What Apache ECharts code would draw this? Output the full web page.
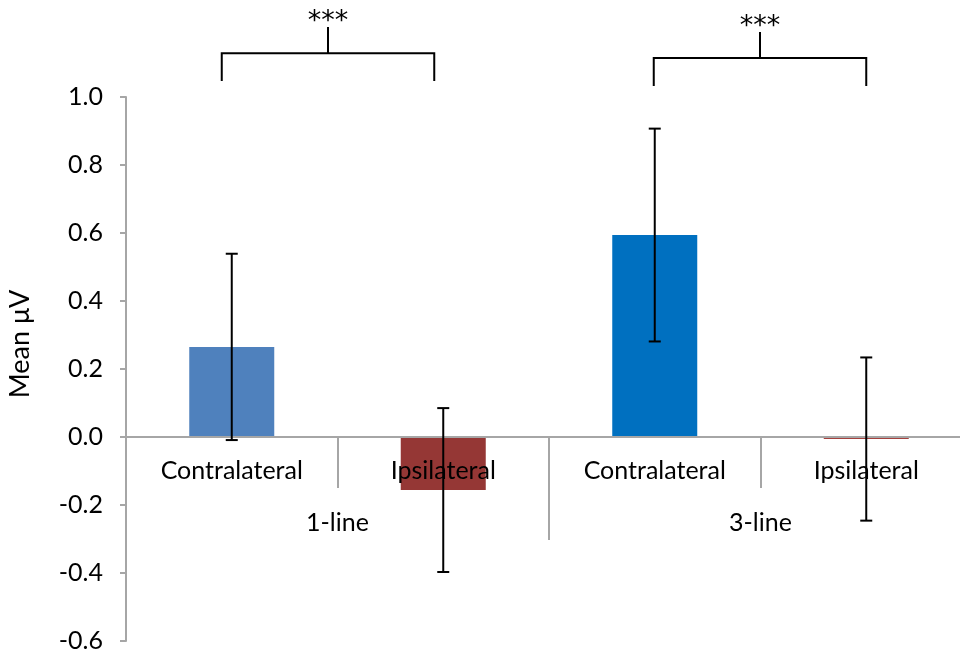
<!DOCTYPE html>
<html>
<head>
<meta charset="utf-8">
<script src="https://cdn.jsdelivr.net/npm/echarts@6/dist/echarts.min.js"></script>
<style>
html,body{margin:0;padding:0;background:#fff;}
#chart{width:960px;height:653px;}
</style>
</head>
<body>
<div id="chart"></div>
<script>
// ---- data ----
var categories = ['Contralateral', 'Ipsilateral', 'Contralateral', 'Ipsilateral'];
var groups = ['1-line', '3-line'];
var means = [0.265, -0.156, 0.594, -0.006];
var errors = [0.274, 0.241, 0.313, 0.240];
var barColors = ['#4F81BD', '#953735', '#0070C0', '#A5403D'];
var yTicks = { min: -0.6, max: 1.0, step: 0.2 };
// significance brackets
var bracketFrom = [0, 2];
var bracketTo = [1, 3];
var bracketLegY = [1.047, 1.032];
var bracketBarY = [1.129, 1.115];
var bracketStemY = [1.206, 1.191];
var bracketStarY = [1.22, 1.205];
var bracketText = ['***', '***'];

var FONT = 'Lato';
var GRID_TOP = 97, GRID_BOTTOM = 12, H = 653;
// pixel distance from grid bottom up to the zero line
var zeroOffset = -((H - GRID_BOTTOM - GRID_TOP) * (0 - yTicks.min) / (yTicks.max - yTicks.min));
// horizontal nudges (px) of bracket ends relative to bar centres
var bracketShift = [[-10, -9], [-1, 0]];

var chart = echarts.init(document.getElementById('chart'));

var barData = means.map(function (v, i) {
  return { value: v, itemStyle: { color: barColors[i] } };
});
var errData = means.map(function (v, i) { return [i, v - errors[i], v + errors[i]]; });
var brData = bracketFrom.map(function (f, i) {
  return [f, bracketTo[i], bracketLegY[i], bracketBarY[i], bracketStemY[i], bracketStarY[i]];
});

chart.setOption({
  animation: false,
  grid: { left: 126, right: -12, top: GRID_TOP, bottom: GRID_BOTTOM, containLabel: false, outerBoundsMode: 'none' },
  xAxis: [
    {
      type: 'category',
      data: categories,
      offset: zeroOffset,
      z: 10,
      axisLine: { onZero: false, lineStyle: { color: '#A6A6A6', width: 2 } },
      axisTick: { show: true, length: 51, lineStyle: { color: '#A6A6A6', width: 2 } },
      axisLabel: { color: '#000', fontFamily: FONT, fontSize: 25, margin: 21 },
      splitLine: { show: false }
    },
    {
      type: 'category',
      data: groups,
      position: 'bottom',
      offset: zeroOffset,
      z: 10,
      axisLine: { show: false, onZero: false },
      axisTick: { show: true, length: 103, lineStyle: { color: '#A6A6A6', width: 2 } },
      axisLabel: { color: '#000', fontFamily: FONT, fontSize: 25, margin: 73 },
      splitLine: { show: false }
    }
  ],
  yAxis: {
    type: 'value',
    min: yTicks.min,
    max: yTicks.max,
    interval: yTicks.step,
    name: 'Mean μV',
    nameLocation: 'middle',
    nameGap: 92,
    nameRotate: 90,
    nameTextStyle: { color: '#000', fontFamily: FONT, fontSize: 27, padding: [0, 0, 0, 50] },
    axisLine: { show: true, lineStyle: { color: '#A6A6A6', width: 2 } },
    axisTick: { show: true, length: 6, lineStyle: { color: '#A6A6A6', width: 2 } },
    axisLabel: {
      color: '#000', fontFamily: FONT, fontSize: 25, margin: 23,
      formatter: function (v) { return v.toFixed(1); }
    },
    splitLine: { show: false }
  },
  series: [
    {
      type: 'bar',
      xAxisIndex: 0,
      data: barData,
      barWidth: 85,
      z: 2
    },
    {
      type: 'custom',
      xAxisIndex: 0,
      z: 12,
      data: errData,
      renderItem: function (params, api) {
        var x = api.value(0);
        var lo = api.coord([x, api.value(1)]);
        var hi = api.coord([x, api.value(2)]);
        var cap = 6;
        var st = { stroke: '#000', lineWidth: 2 };
        return {
          type: 'group',
          children: [
            { type: 'line', shape: { x1: lo[0], y1: lo[1], x2: hi[0], y2: hi[1] }, style: st },
            { type: 'line', shape: { x1: lo[0] - cap, y1: lo[1], x2: lo[0] + cap, y2: lo[1] }, style: st },
            { type: 'line', shape: { x1: hi[0] - cap, y1: hi[1], x2: hi[0] + cap, y2: hi[1] }, style: st }
          ]
        };
      }
    },
    {
      type: 'custom',
      xAxisIndex: 0,
      clip: false,
      z: 12,
      data: brData,
      renderItem: function (params, api) {
        var a = api.value(0), b = api.value(1);
        var leg = api.value(2), bar = api.value(3), stem = api.value(4), star = api.value(5);
        var pa = api.coord([a, bar]), pb = api.coord([b, bar]);
        var la = api.coord([a, leg]);
        var sh = bracketShift[params.dataIndex];
        var xa = pa[0] + sh[0], xb = pb[0] + sh[1];
        var xm = (xa + xb) / 2;
        var ys = api.coord([a, stem])[1];
        var yt = api.coord([a, star])[1];
        var st = { stroke: '#000', lineWidth: 2, fill: null };
        return {
          type: 'group',
          children: [
            { type: 'polyline', shape: { points: [[xa, la[1]], [xa, pa[1]], [xb, pb[1]], [xb, la[1]]] }, style: st },
            { type: 'line', shape: { x1: xm, y1: pa[1], x2: xm, y2: ys }, style: st },
            { type: 'text', x: xm, y: yt, style: { text: bracketText[params.dataIndex], fill: '#000', fontFamily: 'DejaVu Sans', fontSize: 27, align: 'center', verticalAlign: 'middle' } }
          ]
        };
      }
    }
  ]
});
</script>
</body>
</html>
